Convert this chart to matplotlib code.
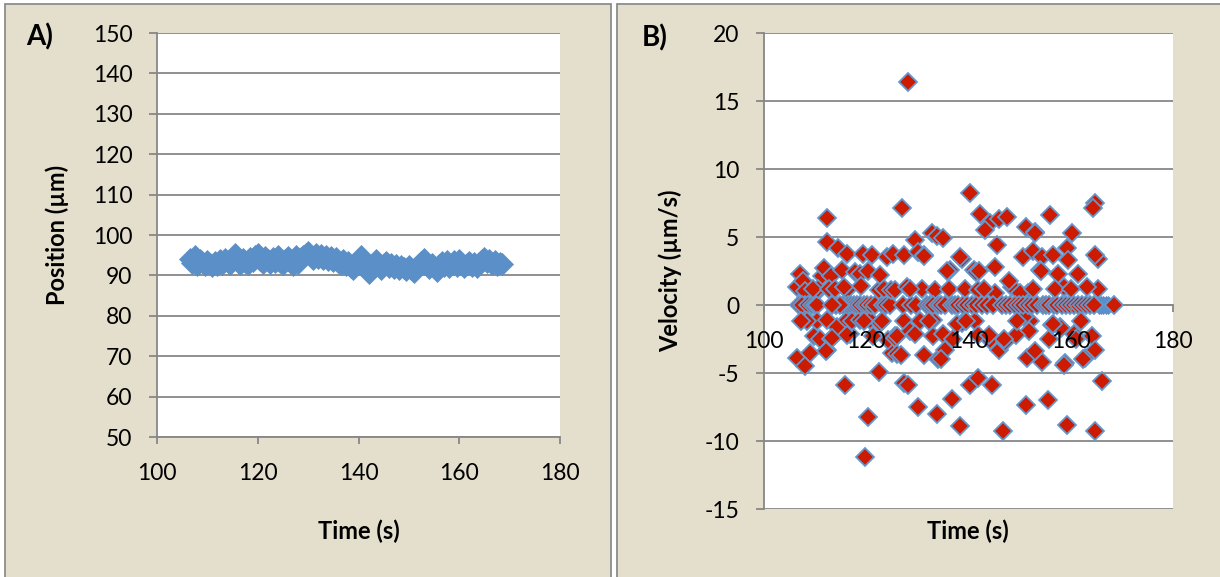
import numpy as np
import matplotlib
matplotlib.use("Agg")
import matplotlib.pyplot as plt
from matplotlib.patches import Rectangle

plt.rcParams['font.family'] = ['Lato', 'DejaVu Sans']
plt.rcParams['axes.unicode_minus'] = False

# Panel A: position (um) vs time (s)
t_pos = [106.5, 107.0, 107.5, 108.0, 108.5, 109.0, 109.5, 110.0, 110.5, 111.0,
         111.5, 112.0, 112.5, 113.0, 113.5, 114.0, 114.5, 115.0, 115.5, 116.0,
         116.5, 117.0, 117.5, 118.0, 118.5, 119.0, 119.5, 120.0, 120.5, 121.0,
         121.5, 122.0, 122.5, 123.0, 123.5, 124.0, 124.5, 125.0, 125.5, 126.0,
         126.5, 127.0, 127.5, 128.0, 128.5, 129.0, 129.5, 130.0, 130.5, 131.0,
         131.5, 132.0, 132.5, 133.0, 133.5, 134.0, 134.5, 135.0, 135.5, 136.0,
         136.5, 137.0, 137.5, 138.0, 138.5, 139.0, 139.5, 140.0, 140.5, 141.0,
         141.5, 142.0, 142.5, 143.0, 143.5, 144.0, 144.5, 145.0, 145.5, 146.0,
         146.5, 147.0, 147.5, 148.0, 148.5, 149.0, 149.5, 150.0, 150.5, 151.0,
         151.5, 152.0, 152.5, 153.0, 153.5, 154.0, 154.5, 155.0, 155.5, 156.0,
         156.5, 157.0, 157.5, 158.0, 158.5, 159.0, 159.5, 160.0, 160.5, 161.0,
         161.5, 162.0, 162.5, 163.0, 163.5, 164.0, 164.5, 165.0, 165.5, 166.0,
         166.5, 167.0, 167.5, 168.0, 168.5]
position = [94.0, 93.0, 94.7, 92.6, 93.8, 93.4, 92.6, 93.6, 92.9, 92.3,
            93.4, 92.5, 93.7, 92.8, 94.1, 93.3, 92.9, 94.3, 95.2, 93.4,
            92.9, 94.0, 93.4, 92.8, 94.2, 93.6, 94.8, 95.4, 93.9, 93.1,
            94.6, 93.7, 93.0, 94.3, 93.4, 94.7, 93.2, 92.8, 93.9, 94.5,
            93.3, 92.5, 94.9, 93.0, 94.2, 94.8, 95.4, 95.8, 94.7, 94.1,
            95.2, 94.4, 95.0, 94.0, 94.7, 93.8, 94.5, 93.5, 94.3, 93.3,
            92.8, 93.9, 92.5, 93.3, 92.1, 91.5, 92.5, 93.5, 94.7, 93.0,
            91.7, 90.5, 92.0, 92.8, 93.8, 92.3, 91.6, 92.8, 93.3, 92.0,
            92.9, 91.8, 92.6, 91.5, 92.4, 91.8, 91.3, 92.3, 91.6, 90.8,
            91.9, 92.7, 93.3, 94.0, 92.6, 91.9, 92.9, 92.0, 91.2, 92.5,
            93.2, 92.4, 93.5, 92.2, 92.9, 93.6, 92.3, 93.9, 92.8, 92.0,
            92.8, 93.3, 92.3, 93.0, 92.1, 93.1, 93.7, 94.2, 93.2, 93.9,
            92.7, 93.5, 92.6, 93.1, 92.8]

# Panel B: velocity (um/s) vs time (s), (time, velocity) pairs
velocity_points = [
    (106.4, 1.35), (106.4, -3.9), (107.0, 2.3), (107.6, 1.8), (108.0, 1.0),
    (108.0, 0.0), (108.0, -0.95), (108.0, -4.5), (109.0, -3.55), (109.7, -2.3),
    (106.9, 0.0), (107.4, 0.0), (108.6, 0.0), (109.3, 0.0), (109.9, 0.0),
    (110.4, 0.0), (110.9, 1.2), (110.3, -1.2), (111.0, -2.5), (111.3, 2.1),
    (111.8, 2.7), (110.6, 1.2), (109.5, 1.2), (108.4, -1.2), (107.2, -1.2),
    (112.3, 6.4), (112.4, 4.65), (114.5, 4.2), (116.2, 3.75), (112.3, -3.3),
    (113.2, -2.5), (115.8, -5.9), (116.8, -2.1), (112.3, -1.1), (114.3, -1.6),
    (116.2, -1.1), (113.2, 2.1), (115.2, 2.6), (116.2, 1.1), (112.2, -3.4),
    (113.3, -2.4), (114.0, 0.0), (115.5, 0.0), (116.4, 0.0), (117.0, 0.0),
    (117.6, 0.0), (118.2, 0.0), (112.8, 1.2), (113.8, 1.2), (114.8, 0.0),
    (115.7, 1.3), (117.8, 2.4), (116.2, -2.2), (113.3, 0.0), (117.2, -1.2),
    (118.8, 2.3), (119.4, 3.75), (121.1, 3.7), (124.0, 3.5), (122.4, 1.1),
    (118.8, -1.1), (120.7, -1.1), (122.7, -1.3), (121.3, -2.3), (125.0, -3.5),
    (125.6, -2.3), (119.7, -11.2), (120.4, -8.2), (122.4, -4.9), (120.4, 2.5),
    (122.7, 2.2), (119.0, 1.4), (118.8, 0.0), (119.6, 0.0), (120.2, 0.0),
    (121.0, 0.0), (121.8, 0.0), (123.2, 0.0), (123.8, 0.0), (124.6, 0.0),
    (125.3, 3.75), (124.2, -2.6), (125.7, -2.4), (126.0, -3.6), (123.4, 1.2),
    (119.5, -1.2), (123.0, -1.2), (124.8, 1.1),
    (126.9, 7.1), (128.2, 16.4), (127.3, 3.7), (125.6, 1.1), (127.9, 1.3),
    (127.3, -1.2), (126.0, -2.3), (126.8, -3.7), (127.4, -5.7), (128.2, -5.9),
    (128.6, -1.9), (129.5, -2.1), (129.6, 4.8), (130.2, 3.9), (131.2, 3.7),
    (130.9, 1.2), (130.5, -1.2), (130.2, -7.5), (131.2, -3.7), (131.3, 3.6),
    (132.8, 5.3), (133.9, 5.1), (135.0, 4.9), (133.5, 1.1), (133.1, -1.1),
    (133.1, -2.3), (134.1, -4.0), (133.8, -8.0), (135.1, -2.1), (135.4, -3.3),
    (136.4, 2.6), (135.8, 2.5), (134.7, -4.0), (127.2, 0.0), (128.8, 0.0),
    (129.8, 0.0), (131.8, 0.0), (132.4, 0.0), (133.0, 0.0), (134.0, 0.0),
    (134.6, 0.0), (135.5, 0.0), (128.6, 1.2), (132.2, -1.2),
    (140.3, 8.25), (142.3, 6.7), (144.2, 6.0), (145.9, 6.3), (147.5, 6.45),
    (143.2, 5.5), (145.5, 4.4), (145.2, 2.8), (138.7, 3.4), (141.0, 2.6),
    (136.1, 1.2), (139.3, 1.2), (141.9, 1.1), (145.2, 0.85), (138.7, -1.3),
    (141.3, -1.2), (144.2, -2.6), (145.9, -3.3), (136.7, -6.9), (138.4, -8.9),
    (140.3, -5.9), (141.9, -5.4), (144.5, -5.9), (146.8, -9.3), (138.4, 3.5),
    (141.4, 2.4), (137.7, -1.4), (141.8, -2.2), (144.0, -2.2), (136.8, 0.0),
    (137.4, 0.0), (138.0, 0.0), (139.0, 0.0), (139.8, 0.0), (140.6, 0.0),
    (141.4, 0.0), (142.6, 0.0), (143.6, 0.0), (144.8, 0.0), (142.0, 2.5),
    (137.0, -2.5), (139.6, -1.2), (143.0, 1.2),
    (151.2, 5.75), (153.0, 5.4), (153.1, 5.3), (150.7, 3.5), (152.7, 4.0),
    (154.4, 3.55), (151.7, 0.85), (154.0, 2.6), (148.5, 1.3), (150.1, 0.85),
    (148.0, 1.8), (147.2, -2.7), (151.2, -7.35), (151.4, -3.9), (154.4, -4.2),
    (153.0, -3.4), (155.6, -7.0), (152.1, -1.2), (150.8, -0.9), (151.9, -1.9),
    (149.3, -2.2), (147.0, -2.5), (154.2, 2.5), (155.7, -2.5), (146.6, 0.0),
    (147.4, 0.0), (148.2, 0.0), (149.0, 0.0), (149.8, 0.0), (150.6, 0.0),
    (151.6, 0.0), (152.4, 0.0), (153.4, 0.0), (154.6, 0.0), (155.2, 0.0),
    (149.5, -1.2), (152.6, 1.2),
    (156.0, 6.6), (160.2, 5.3), (164.8, 7.5), (164.4, 7.1), (165.4, 3.4),
    (164.8, 3.7), (159.2, 4.2), (156.6, 3.7), (159.5, 3.3), (161.5, 2.3),
    (157.6, 2.3), (158.6, 1.35), (165.4, 1.2), (163.2, 1.35), (156.3, -1.5),
    (157.9, -1.6), (160.6, -2.1), (164.2, -2.3), (164.8, -3.3), (162.8, -3.9),
    (158.9, -4.3), (166.1, -5.6), (159.2, -8.8), (164.8, -9.3), (158.7, -4.4),
    (161.0, -2.5), (158.0, -1.7), (156.5, -1.4), (162.4, -4.0), (155.8, 0.0),
    (156.8, 0.0), (157.4, 0.0), (158.2, 0.0), (159.0, 0.0), (159.8, 0.0),
    (160.6, 0.0), (161.4, 0.0), (162.2, 0.0), (163.0, 0.0), (163.8, 0.0),
    (164.6, 0.0), (168.4, 0.0), (157.0, 1.2), (160.0, 1.2), (162.0, -1.2),
]
# second (blue) series only visible at the right end
t_blue = [165.6, 166.0, 166.4, 166.8, 167.2]
v_blue = [0.0, 0.0, 0.0, 0.0, 0.0]

x_ticks = [100, 120, 140, 160, 180]
pos_ticks = [50, 60, 70, 80, 90, 100, 110, 120, 130, 140, 150]
vel_ticks = [-15, -10, -5, 0, 5, 10, 15, 20]

beige = '#E3DFCC'
frame = '#8C8C8C'
grey = '#878787'
blue = '#5B8FC8'
red = '#CC1B00'
edge_blue = '#6399CF'

W, H = 1220, 577
fig = plt.figure(figsize=(W / 100, H / 100), dpi=100, facecolor='white')

# beige chart areas with grey frames
fig.add_artist(Rectangle((5 / W, -0.1), (611 - 5) / W, 1.1 - 4 / H,
                         transform=fig.transFigure, facecolor=beige,
                         edgecolor=frame, lw=1.3, zorder=0))
fig.add_artist(Rectangle((617 / W, -0.1), 0.6, 1.1 - 4 / H,
                         transform=fig.transFigure, facecolor=beige,
                         edgecolor=frame, lw=1.3, zorder=0))


def px_axes(left, right, top, bottom):
    return fig.add_axes([left / W, 1 - bottom / H, (right - left) / W, (bottom - top) / H])


def style(ax, ticks, ylim):
    ax.set_facecolor('white')
    ax.set_xlim(100, 180)
    ax.set_ylim(*ylim)
    ax.set_xticks(x_ticks)
    ax.set_yticks(ticks)
    for s in ['top', 'right']:
        ax.spines[s].set_visible(False)
    for s in ['left', 'bottom']:
        ax.spines[s].set_color(grey)
        ax.spines[s].set_linewidth(1.3)
    ax.grid(axis='y', color=grey, lw=1.3)
    ax.tick_params(axis='y', direction='out', length=5.8, width=1.3, color=grey,
                   labelsize=16.5, pad=12)
    ax.tick_params(axis='x', direction='out', length=5, width=1.3, color=grey,
                   labelsize=16.5, pad=14)
    ax.set_axisbelow(True)


# ---- A) position
axA = px_axes(157, 560, 33, 437)
style(axA, pos_ticks, (50, 150))
axA.plot(t_pos, position, 'D', ls='none', ms=11, mfc=blue, mec=blue, mew=0.5)
axA.set_xlabel('Time (s)', fontsize=17, fontweight='bold', va='center')
axA.xaxis.set_label_coords(0.5, -(531 - 437) / 404)
axA.set_ylabel('Position (µm)', fontsize=17, fontweight='bold', va='center')
axA.yaxis.set_label_coords((57 - 157) / 403, 0.5)
fig.text(40 / W, 1 - 37 / H, 'A)', fontsize=20, fontweight='bold', ha='center', va='center')

# ---- B) velocity
axB = px_axes(764, 1173, 33, 509)
style(axB, vel_ticks, (-15, 20))
axB.spines['bottom'].set_position(('data', 0))
axB.spines['bottom'].set_zorder(0.6)
axB.xaxis.set_zorder(3)
t_vel = [p[0] for p in velocity_points]
vel = [p[1] for p in velocity_points]
axB.plot(t_blue, v_blue, 'D', ls='none', ms=9.5, mfc=blue, mec=blue, mew=0.5)
axB.plot(t_vel, vel, 'D', ls='none', ms=9.3, mfc=red, mec=edge_blue, mew=1.3)
axB.set_ylabel('Velocity (µm/s)', fontsize=17, fontweight='bold', va='center')
axB.yaxis.set_label_coords((670 - 764) / 409, 0.5)
fig.text(968 / W, 1 - 531 / H, 'Time (s)', fontsize=17, fontweight='bold',
         ha='center', va='center')
fig.text(655 / W, 1 - 38 / H, 'B)', fontsize=20, fontweight='bold', ha='center', va='center')

fig.savefig('out.png', dpi=100, facecolor=fig.get_facecolor())
